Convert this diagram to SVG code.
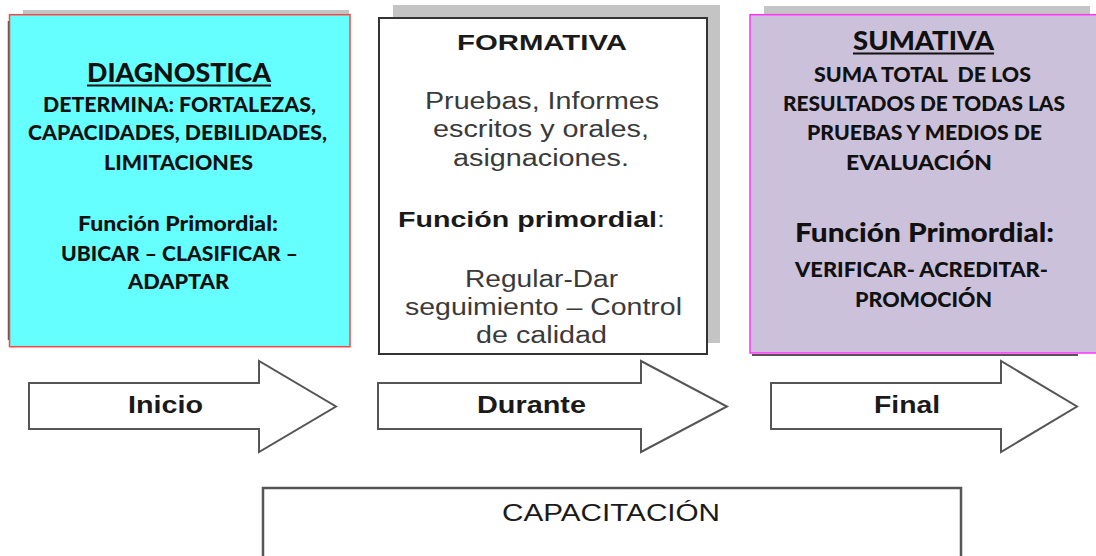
<svg xmlns="http://www.w3.org/2000/svg" width="1096" height="556" viewBox="0 0 1096 556">
<style>
.cal{font-family:Lato,"Open Sans","Liberation Sans",sans-serif;font-weight:900;fill:#111;}
.ar{font-family:"Liberation Sans",Arial,sans-serif;fill:#3a3a3a;}
.arb{font-family:"Liberation Sans",Arial,sans-serif;font-weight:bold;fill:#1a1a1a;}
.arrow{fill:#fff;stroke:#555;stroke-width:2;stroke-linejoin:miter;}
.shadow{fill:#c4c4c4;}
</style>
<rect width="1096" height="556" fill="#fff"/>

<g id="diagnostica">
  <rect class="shadow" x="23" y="10" width="326" height="12"/>
  <line x1="8.5" y1="21" x2="8.5" y2="340" stroke="#555" stroke-width="1.5"/>
  <rect x="9.5" y="14.7" width="340.5" height="332" fill="#66ffff" stroke="#ff4444" stroke-width="1.5"/>
  <text class="cal" x="87" y="82" font-size="27" textLength="184" lengthAdjust="spacingAndGlyphs">DIAGNOSTICA</text>
  <rect x="87" y="84.5" width="184" height="2" fill="#111"/>
  <text class="cal" x="43" y="112" font-size="20" textLength="273" lengthAdjust="spacingAndGlyphs">DETERMINA: FORTALEZAS,</text>
  <text class="cal" x="28" y="140" font-size="20" textLength="299" lengthAdjust="spacingAndGlyphs">CAPACIDADES, DEBILIDADES,</text>
  <text class="cal" x="104" y="170" font-size="20" textLength="149" lengthAdjust="spacingAndGlyphs">LIMITACIONES</text>
  <text class="cal" x="78" y="231" font-size="21" textLength="200" lengthAdjust="spacingAndGlyphs">Función Primordial:</text>
  <text class="cal" x="61" y="261" font-size="20" textLength="237" lengthAdjust="spacingAndGlyphs">UBICAR – CLASIFICAR –</text>
  <text class="cal" x="128" y="289" font-size="20" textLength="101" lengthAdjust="spacingAndGlyphs">ADAPTAR</text>
</g>

<g id="formativa">
  <rect class="shadow" x="393" y="5" width="327" height="338"/>
  <rect x="379" y="18" width="328" height="336" fill="#fff" stroke="#333" stroke-width="2"/>
  <text class="arb" x="457" y="50" font-size="22" textLength="170" lengthAdjust="spacingAndGlyphs">FORMATIVA</text>
  <text class="ar" x="425" y="109" font-size="23" textLength="234" lengthAdjust="spacingAndGlyphs">Pruebas, Informes</text>
  <text class="ar" x="433" y="137" font-size="23" textLength="216" lengthAdjust="spacingAndGlyphs">escritos y orales,</text>
  <text class="ar" x="453" y="166" font-size="23" textLength="176" lengthAdjust="spacingAndGlyphs">asignaciones.</text>
  <text class="ar" x="398" y="227" font-size="22" textLength="267" lengthAdjust="spacingAndGlyphs"><tspan class="arb">Función primordial</tspan>:</text>
  <text class="ar" x="465" y="287" font-size="23" textLength="153" lengthAdjust="spacingAndGlyphs">Regular-Dar</text>
  <text class="ar" x="405" y="315" font-size="23" textLength="277" lengthAdjust="spacingAndGlyphs">seguimiento – Control</text>
  <text class="ar" x="476" y="343" font-size="23" textLength="131" lengthAdjust="spacingAndGlyphs">de calidad</text>
</g>

<g id="sumativa">
  <rect class="shadow" x="764" y="6" width="326" height="12"/>
  <line x1="752" y1="355" x2="1078" y2="355" stroke="#555" stroke-width="2"/>
  <rect x="750" y="14.7" width="360" height="338.3" fill="#ccc1da" stroke="#ff33ff" stroke-width="1.5"/>
  <text class="cal" x="853" y="50" font-size="27" textLength="141" lengthAdjust="spacingAndGlyphs">SUMATIVA</text>
  <rect x="853" y="52.5" width="141" height="2" fill="#111"/>
  <text class="cal" x="814" y="82" font-size="20" textLength="217" lengthAdjust="spacingAndGlyphs" style="white-space:pre">SUMA TOTAL  DE LOS</text>
  <text class="cal" x="783" y="111" font-size="20" textLength="282" lengthAdjust="spacingAndGlyphs">RESULTADOS DE TODAS LAS</text>
  <text class="cal" x="807" y="140" font-size="20" textLength="235" lengthAdjust="spacingAndGlyphs">PRUEBAS Y MEDIOS DE</text>
  <text class="cal" x="846" y="170" font-size="20" textLength="146" lengthAdjust="spacingAndGlyphs">EVALUACIÓN</text>
  <text class="cal" x="795" y="242" font-size="27" textLength="259" lengthAdjust="spacingAndGlyphs">Función Primordial:</text>
  <text class="cal" x="795" y="277" font-size="20" textLength="253" lengthAdjust="spacingAndGlyphs">VERIFICAR- ACREDITAR-</text>
  <text class="cal" x="855" y="307" font-size="20" textLength="137" lengthAdjust="spacingAndGlyphs">PROMOCIÓN</text>
</g>

<g id="connectors">
  <g id="arrow-inicio">
    <path class="arrow" d="M29,383 H259 V361 L336,406.5 L259,452 V429 H29 Z"/>
    <text class="arb" x="128" y="413" font-size="23" textLength="75" lengthAdjust="spacingAndGlyphs">Inicio</text>
  </g>
  <g id="arrow-durante">
    <path class="arrow" d="M378,383 H641 V361 L727,406.5 L641,452 V429 H378 Z"/>
    <text class="arb" x="477" y="413" font-size="23" textLength="109" lengthAdjust="spacingAndGlyphs">Durante</text>
  </g>
  <g id="arrow-final">
    <path class="arrow" d="M771,383 H1001 V361 L1077,406.5 L1001,452 V429 H771 Z"/>
    <text class="arb" x="874" y="413" font-size="23" textLength="66" lengthAdjust="spacingAndGlyphs">Final</text>
  </g>
</g>

<g id="capacitacion">
  <rect x="263" y="488" width="698" height="90" fill="#fff" stroke="#555" stroke-width="2.5"/>
  <text class="ar" x="502" y="521" font-size="23" textLength="218" lengthAdjust="spacingAndGlyphs" style="fill:#1a1a1a">CAPACITACIÓN</text>
</g>
</svg>
